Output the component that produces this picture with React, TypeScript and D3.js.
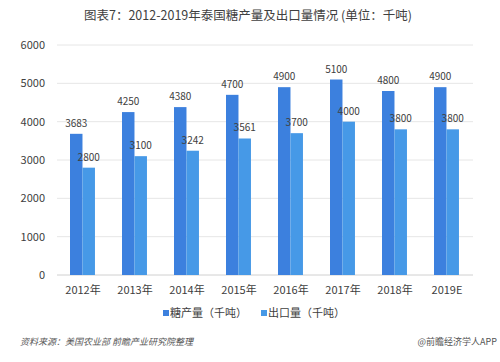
import React, { useEffect, useRef } from 'react';
import * as d3 from 'd3';

const years = ['2012年', '2013年', '2014年', '2015年', '2016年', '2017年', '2018年', '2019E'];
const production = [3683, 4250, 4380, 4700, 4900, 5100, 4800, 4900];
const exportsVol = [2800, 3100, 3242, 3561, 3700, 4000, 3800, 3800];
const seriesNames = ['糖产量（千吨）', '出口量（千吨）'];
const yTicks = [0, 1000, 2000, 3000, 4000, 5000, 6000];

export default function App() {
  const svgRef = useRef<SVGSVGElement>(null);

  const width = 500;
  const height = 362;
  const margin = { top: 45, right: 27, bottom: 87, left: 57 };
  const innerWidth = width - margin.left - margin.right;
  const innerHeight = height - margin.top - margin.bottom;
  const font = '"Noto Sans CJK SC", "Noto Sans", sans-serif';
  const colors = ['#3c80de', '#4699e7'];

  useEffect(() => {
    const svg = d3.select(svgRef.current);
    svg.selectAll('*').remove();

    const x = d3.scaleBand().domain(years).range([0, innerWidth]).padding(0);
    const sub = d3.scaleBand().domain(['0', '1']).range([x.bandwidth() * 0.25, x.bandwidth() * 0.73]).padding(0);
    const y = d3.scaleLinear().domain([0, 6000]).range([innerHeight, 0]);

    svg.append('text')
      .attr('x', 248).attr('y', 20)
      .attr('text-anchor', 'middle')
      .attr('font-size', 12.5)
      .attr('fill', '#404040')
      .attr('font-family', font)
      .text('图表7：2012-2019年泰国糖产量及出口量情况 (单位：千吨)');

    const g = svg.append('g').attr('transform', `translate(${margin.left},${margin.top})`);

    // gridlines
    g.selectAll('.grid').data(yTicks).enter().append('line')
      .attr('x1', 0).attr('x2', innerWidth)
      .attr('y1', d => y(d)).attr('y2', d => y(d))
      .attr('stroke', d => (d === 0 ? '#d0d0d0' : '#e6e6e6'))
      .attr('stroke-width', 1);

    g.selectAll('.ylab').data(yTicks).enter().append('text')
      .attr('x', -12).attr('y', d => y(d)).attr('dy', '0.35em')
      .attr('text-anchor', 'end')
      .attr('font-size', 11)
      .attr('fill', '#404040')
      .attr('font-family', font)
      .text(d => d);

    const series = [production, exportsVol];
    series.forEach((vals, si) => {
      g.selectAll(`.bar${si}`).data(vals).enter().append('rect')
        .attr('x', (d, i) => (x(years[i]) as number) + (sub(String(si)) as number))
        .attr('y', d => y(d))
        .attr('width', sub.bandwidth())
        .attr('height', d => innerHeight - y(d))
        .attr('fill', colors[si]);

      g.selectAll(`.lab${si}`).data(vals).enter().append('text')
        .attr('x', (d, i) => (x(years[i]) as number) + (sub(String(si)) as number) + sub.bandwidth() / 2)
        .attr('y', d => y(d) - 7)
        .attr('text-anchor', 'middle')
        .attr('font-size', 10)
        .attr('fill', '#404040')
        .attr('font-family', font)
        .text(d => d);
    });

    g.selectAll('.xlab').data(years).enter().append('text')
      .attr('x', d => (x(d) as number) + x.bandwidth() / 2)
      .attr('y', innerHeight + 19)
      .attr('text-anchor', 'middle')
      .attr('font-size', 11)
      .attr('fill', '#404040')
      .attr('font-family', font)
      .text(d => d);

    // legend
    const legendX = [163, 261];
    seriesNames.forEach((name, i) => {
      svg.append('rect')
        .attr('x', legendX[i]).attr('y', 310)
        .attr('width', 6).attr('height', 6)
        .attr('fill', colors[i]);
      svg.append('text')
        .attr('x', legendX[i] + 7).attr('y', 313).attr('dy', '0.35em')
        .attr('font-size', 11)
        .attr('fill', '#404040')
        .attr('font-family', font)
        .text(name);
    });

    svg.append('text')
      .attr('x', 20).attr('y', 345)
      .attr('font-size', 9)
      .attr('font-style', 'italic')
      .attr('fill', '#555')
      .attr('font-family', font)
      .text('资料来源：美国农业部 前瞻产业研究院整理');

    svg.append('text')
      .attr('x', 497).attr('y', 345)
      .attr('text-anchor', 'end')
      .attr('font-size', 9)
      .attr('fill', '#555')
      .attr('font-family', font)
      .text('@前瞻经济学人APP');
  }, []);

  return (
    <svg
      ref={svgRef}
      width={width}
      height={height}
      style={{ position: 'absolute', left: 0, top: 0, background: '#fff' }}
    />
  );
}
